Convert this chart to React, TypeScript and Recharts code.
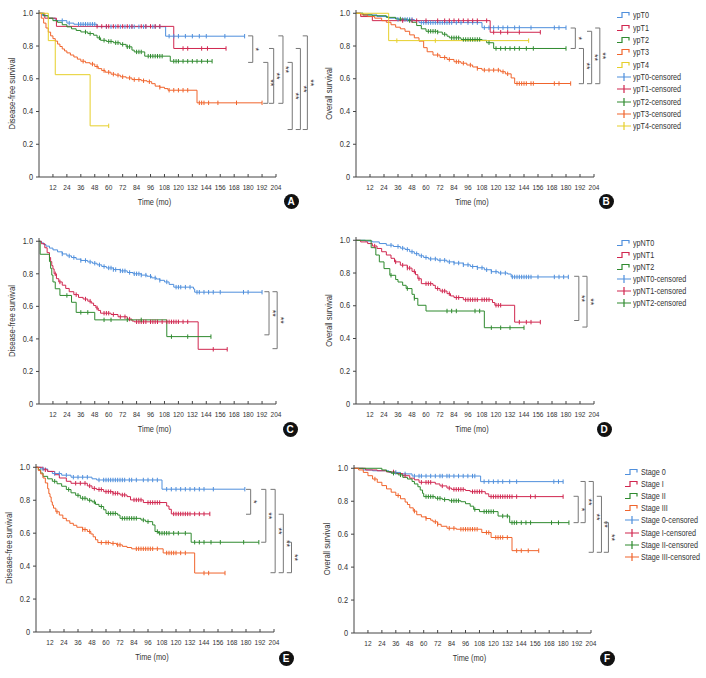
import { LineChart, Line, XAxis, YAxis, ReferenceLine } from "recharts";

// ---- axis ticks ----
const MONTH_TICKS = [12, 24, 36, 48, 60, 72, 84, 96, 108, 120, 132, 144, 156, 168, 180, 192, 204];
const SURV_TICKS = [0, 0.2, 0.4, 0.6, 0.8, 1.0];

// ---- colours ----
const BLUE = "#4f8fdc";
const RED = "#d0264f";
const GREEN = "#2f8a2f";
const ORANGE = "#f0642c";
const YELLOW = "#e6cf2a";

// ---- A: disease-free survival by ypT ----
const A_T0 = [[0, 1], [3, 0.985], [8, 0.97], [14, 0.955], [24, 0.94], [30, 0.933], [50, 0.918], [109, 0.86]];
const A_T0_CENS = [20, 26, 34, 36, 38, 40, 42, 44, 46, 48, 58, 62, 66, 70, 74, 78, 80, 82, 86, 90, 92, 98, 100, 104, 112, 116, 120, 126, 132, 138, 144, 160, 177];
const A_T1 = [[0, 1], [5, 0.97], [15, 0.92], [116, 0.785]];
const A_T1_CENS = [50, 54, 58, 60, 64, 68, 72, 76, 80, 88, 92, 96, 100, 104, 124, 128, 140, 145, 161];
const A_T2 = [[0, 1], [4, 0.985], [8, 0.97], [12, 0.955], [16, 0.945], [20, 0.93], [24, 0.917], [28, 0.905], [32, 0.895], [36, 0.886], [42, 0.876], [47, 0.866], [50, 0.85], [53, 0.835], [58, 0.828], [64, 0.82], [70, 0.81], [75, 0.795], [80, 0.775], [82, 0.764], [91, 0.738], [113, 0.707]];
const A_T2_CENS = [40, 44, 52, 56, 60, 62, 66, 68, 72, 76, 78, 84, 86, 88, 94, 96, 98, 100, 102, 104, 106, 116, 118, 120, 124, 128, 132, 136, 140, 145, 149];
const A_T3 = [[0, 1], [2, 0.97], [4, 0.94], [6, 0.91], [8, 0.885], [10, 0.862], [12, 0.845], [14, 0.83], [16, 0.812], [18, 0.797], [20, 0.782], [22, 0.77], [24, 0.758], [27, 0.745], [30, 0.733], [33, 0.72], [36, 0.707], [40, 0.698], [44, 0.69], [48, 0.675], [51, 0.662], [54, 0.65], [57, 0.64], [62, 0.628], [66, 0.622], [70, 0.612], [75, 0.605], [80, 0.595], [88, 0.588], [93, 0.582], [97, 0.57], [100, 0.555], [104, 0.548], [108, 0.54], [111, 0.53], [136, 0.453]];
const A_T3_CENS = [38, 46, 50, 56, 60, 64, 68, 72, 78, 82, 86, 90, 95, 104, 112, 116, 120, 124, 128, 138, 140, 142, 146, 154, 170, 192];
const A_T4 = [[0, 1], [8, 0.833], [14, 0.625], [44, 0.3125]];
const A_T4_CENS = [60];

// ---- B: overall survival by ypT ----
const B_T0 = [[0, 1], [6, 0.99], [18, 0.98], [28, 0.97], [36, 0.962], [50, 0.955], [54, 0.943], [108, 0.912]];
const B_T0_CENS = [36, 40, 42, 44, 46, 48, 56, 58, 60, 62, 64, 66, 68, 70, 72, 74, 76, 78, 80, 82, 86, 90, 96, 100, 104, 110, 114, 118, 122, 126, 130, 136, 140, 150, 170, 174, 180];
const B_T1 = [[0, 1], [4, 0.98], [14, 0.955], [115, 0.884]];
const B_T1_CENS = [40, 48, 52, 60, 70, 76, 80, 84, 88, 92, 96, 100, 104, 112, 118, 124, 130, 140, 158];
const B_T2 = [[0, 1], [6, 0.99], [14, 0.985], [26, 0.975], [34, 0.965], [44, 0.955], [48, 0.945], [52, 0.925], [56, 0.905], [60, 0.89], [70, 0.885], [74, 0.872], [78, 0.86], [80, 0.85], [90, 0.84], [108, 0.835], [112, 0.82], [118, 0.785]];
const B_T2_CENS = [38, 46, 62, 64, 66, 68, 70, 76, 82, 84, 86, 88, 92, 94, 96, 98, 100, 102, 104, 106, 114, 120, 124, 128, 132, 136, 140, 146, 152, 180];
const B_T3 = [[0, 1], [4, 0.99], [10, 0.98], [16, 0.97], [22, 0.955], [26, 0.945], [30, 0.93], [34, 0.915], [38, 0.905], [42, 0.89], [46, 0.868], [50, 0.85], [54, 0.83], [58, 0.79], [61, 0.765], [66, 0.745], [72, 0.73], [78, 0.718], [84, 0.704], [90, 0.695], [95, 0.684], [100, 0.672], [104, 0.663], [108, 0.653], [124, 0.643], [128, 0.63], [133, 0.605], [136, 0.571]];
const B_T3_CENS = [70, 76, 80, 86, 88, 92, 98, 104, 110, 114, 118, 122, 126, 130, 138, 140, 142, 144, 146, 150, 152, 170, 174, 184];
const B_T4 = [[0, 1], [28, 0.833]];
const B_T4_CENS = [35, 68, 148];

// ---- C: disease-free survival by ypN ----
const C_N0 = [[0, 1], [2, 0.99], [4, 0.98], [6, 0.97], [9, 0.958], [12, 0.947], [16, 0.935], [20, 0.922], [24, 0.91], [28, 0.9], [32, 0.89], [36, 0.882], [42, 0.873], [46, 0.865], [50, 0.855], [54, 0.845], [58, 0.836], [64, 0.826], [70, 0.818], [76, 0.808], [81, 0.8], [88, 0.792], [93, 0.785], [97, 0.775], [101, 0.768], [104, 0.76], [108, 0.75], [112, 0.735], [116, 0.718], [133, 0.707], [134, 0.687]];
const C_N0_CENS = [20, 26, 30, 36, 40, 44, 48, 52, 56, 60, 62, 64, 66, 70, 72, 74, 78, 82, 84, 86, 88, 92, 96, 100, 104, 110, 118, 120, 122, 126, 130, 136, 138, 142, 146, 150, 156, 176, 180, 192];
const C_N1 = [[0, 1], [2, 0.985], [5, 0.96], [7, 0.93], [9, 0.9], [10, 0.875], [11, 0.85], [12, 0.83], [13, 0.8], [15, 0.77], [17, 0.75], [20, 0.73], [23, 0.71], [26, 0.69], [30, 0.672], [34, 0.655], [38, 0.645], [42, 0.632], [45, 0.62], [47, 0.605], [49, 0.59], [51, 0.575], [53, 0.558], [62, 0.55], [68, 0.536], [76, 0.522], [80, 0.51], [82, 0.505], [137, 0.336]];
const C_N1_CENS = [14, 18, 32, 40, 44, 50, 56, 58, 60, 64, 70, 74, 78, 84, 86, 88, 90, 92, 96, 98, 100, 102, 106, 110, 112, 114, 116, 118, 120, 124, 128, 150, 162];
const C_N2 = [[0, 1], [1, 0.92], [9, 0.875], [10, 0.833], [11, 0.792], [12, 0.75], [14, 0.708], [18, 0.667], [28, 0.625], [32, 0.563], [48, 0.517], [110, 0.414]];
const C_N2_CENS = [24, 36, 42, 56, 62, 76, 88, 114, 128, 148];

// ---- D: overall survival by ypN ----
const D_N0 = [[0, 1], [8, 0.995], [14, 0.99], [20, 0.98], [26, 0.97], [32, 0.962], [38, 0.952], [42, 0.944], [46, 0.93], [50, 0.918], [54, 0.905], [58, 0.895], [62, 0.886], [70, 0.878], [78, 0.868], [84, 0.861], [92, 0.85], [98, 0.84], [104, 0.832], [110, 0.82], [116, 0.808], [122, 0.8], [130, 0.794], [133, 0.776]];
const D_N0_CENS = [30, 36, 40, 44, 48, 52, 56, 60, 64, 68, 72, 76, 80, 84, 88, 92, 96, 100, 104, 108, 112, 116, 120, 124, 128, 134, 136, 138, 140, 142, 144, 146, 148, 150, 156, 170, 174, 178, 182];
const D_N1 = [[0, 1], [4, 0.99], [10, 0.98], [14, 0.965], [18, 0.95], [22, 0.93], [26, 0.91], [30, 0.89], [33, 0.868], [38, 0.848], [44, 0.83], [48, 0.81], [51, 0.79], [53, 0.765], [56, 0.735], [66, 0.725], [68, 0.705], [72, 0.69], [78, 0.674], [81, 0.66], [84, 0.65], [92, 0.637], [117, 0.62], [119, 0.603], [136, 0.5]];
const D_N1_CENS = [16, 34, 40, 44, 46, 50, 54, 60, 62, 64, 70, 74, 76, 80, 86, 88, 94, 96, 98, 100, 102, 104, 108, 110, 112, 114, 120, 122, 124, 140, 146, 150, 158];
const D_N2 = [[0, 1], [13, 0.955], [17, 0.91], [20, 0.868], [24, 0.827], [29, 0.786], [34, 0.76], [36, 0.745], [40, 0.725], [43, 0.705], [48, 0.67], [50, 0.645], [53, 0.603], [60, 0.568], [110, 0.466]];
const D_N2_CENS = [30, 44, 50, 78, 82, 86, 102, 106, 116, 124, 132, 144];

// ---- E: disease-free survival by stage ----
const E_S0 = [[0, 1], [4, 0.99], [10, 0.975], [14, 0.962], [22, 0.952], [30, 0.94], [48, 0.93], [52, 0.923], [108, 0.867]];
const E_S0_CENS = [6, 16, 20, 26, 32, 36, 40, 44, 54, 58, 60, 62, 64, 66, 68, 70, 72, 74, 76, 80, 82, 86, 92, 96, 100, 104, 112, 116, 120, 124, 128, 132, 136, 140, 144, 152, 179];
const E_S1 = [[0, 1], [6, 0.985], [10, 0.975], [16, 0.955], [20, 0.935], [26, 0.915], [30, 0.903], [44, 0.887], [48, 0.872], [52, 0.865], [58, 0.852], [66, 0.842], [72, 0.832], [78, 0.822], [81, 0.802], [92, 0.786], [112, 0.765], [114, 0.745], [116, 0.717]];
const E_S1_CENS = [8, 34, 38, 42, 46, 50, 54, 56, 60, 62, 64, 66, 68, 70, 74, 76, 84, 86, 88, 90, 96, 98, 100, 102, 104, 106, 118, 120, 122, 124, 126, 128, 130, 132, 136, 140, 144, 149];
const E_S2 = [[0, 1], [2, 0.985], [4, 0.965], [6, 0.945], [10, 0.93], [14, 0.915], [18, 0.9], [22, 0.885], [26, 0.865], [30, 0.845], [34, 0.83], [38, 0.812], [44, 0.8], [48, 0.79], [51, 0.775], [54, 0.762], [58, 0.742], [60, 0.72], [70, 0.71], [72, 0.69], [90, 0.68], [94, 0.67], [100, 0.65], [102, 0.61], [105, 0.6], [133, 0.545]];
const E_S2_CENS = [16, 28, 36, 40, 42, 46, 50, 56, 62, 64, 66, 68, 74, 76, 78, 80, 82, 84, 86, 92, 96, 104, 106, 108, 110, 112, 114, 118, 122, 128, 136, 140, 144, 150, 158, 178, 191];
const E_S3 = [[0, 1], [2, 0.98], [4, 0.96], [6, 0.935], [8, 0.905], [10, 0.87], [11, 0.84], [12, 0.82], [13, 0.79], [14, 0.77], [15, 0.752], [17, 0.73], [20, 0.71], [23, 0.69], [26, 0.675], [29, 0.66], [32, 0.648], [35, 0.636], [40, 0.622], [44, 0.61], [47, 0.595], [49, 0.578], [51, 0.56], [53, 0.543], [64, 0.538], [69, 0.529], [74, 0.52], [78, 0.513], [82, 0.505], [109, 0.48], [136, 0.358]];
const E_S3_CENS = [18, 40, 42, 46, 56, 60, 62, 66, 70, 72, 86, 88, 90, 92, 94, 96, 98, 100, 104, 112, 114, 116, 118, 120, 124, 128, 144, 148, 162];

// ---- F: overall survival by stage ----
const F_S0 = [[0, 1], [8, 0.99], [16, 0.985], [30, 0.975], [40, 0.966], [50, 0.953], [109, 0.919]];
const F_S0_CENS = [36, 44, 52, 56, 58, 62, 66, 70, 74, 76, 80, 82, 86, 90, 94, 98, 102, 104, 112, 116, 120, 124, 128, 134, 140, 172, 176, 180];
const F_S1 = [[0, 1], [10, 0.99], [20, 0.985], [28, 0.978], [36, 0.968], [42, 0.955], [48, 0.94], [52, 0.93], [56, 0.915], [70, 0.905], [74, 0.893], [80, 0.88], [84, 0.872], [96, 0.865], [100, 0.858], [113, 0.845], [116, 0.828]];
const F_S1_CENS = [34, 44, 58, 62, 64, 66, 76, 82, 86, 88, 90, 92, 94, 102, 104, 106, 108, 110, 118, 120, 122, 124, 126, 128, 130, 132, 134, 136, 140, 152, 156, 180];
const F_S2 = [[0, 1], [24, 0.99], [28, 0.98], [32, 0.97], [38, 0.96], [42, 0.945], [46, 0.935], [50, 0.92], [52, 0.905], [55, 0.888], [57, 0.868], [59, 0.848], [60, 0.828], [70, 0.818], [76, 0.81], [82, 0.803], [92, 0.797], [96, 0.785], [100, 0.77], [103, 0.75], [108, 0.737], [124, 0.71], [134, 0.67]];
const F_S2_CENS = [34, 40, 62, 64, 66, 68, 72, 74, 78, 84, 86, 88, 90, 104, 112, 114, 116, 118, 120, 128, 132, 136, 138, 140, 144, 148, 152, 170, 176, 185];
const F_S3 = [[0, 1], [4, 0.99], [8, 0.975], [12, 0.955], [16, 0.935], [20, 0.915], [24, 0.895], [28, 0.875], [32, 0.855], [36, 0.835], [40, 0.815], [44, 0.795], [46, 0.78], [48, 0.76], [51, 0.74], [54, 0.718], [58, 0.705], [62, 0.695], [66, 0.685], [68, 0.675], [72, 0.66], [75, 0.648], [80, 0.636], [88, 0.63], [110, 0.61], [118, 0.58], [136, 0.5]];
const F_S3_CENS = [18, 38, 52, 62, 70, 72, 82, 86, 92, 94, 96, 98, 100, 102, 104, 106, 114, 116, 122, 124, 126, 128, 132, 140, 144, 150, 159];

// ---- pairwise comparison brackets (months, survival) ----
const A_BRACKETS = [
    { x: 184, top: 0.862, bottom: 0.7, mark: "*" },
    { x: 197, top: 0.7, bottom: 0.45, mark: "**" },
    { x: 202, top: 0.785, bottom: 0.45, mark: "**" },
    { x: 210, top: 0.862, bottom: 0.45, mark: "**" },
    { x: 218, top: 0.7, bottom: 0.29, mark: "**" },
    { x: 225, top: 0.785, bottom: 0.29, mark: "**" },
    { x: 231, top: 0.862, bottom: 0.29, mark: "**" },
];
const B_BRACKETS = [
    { x: 188, top: 0.91, bottom: 0.785, mark: "*" },
    { x: 195, top: 0.785, bottom: 0.57, mark: "**" },
    { x: 202, top: 0.89, bottom: 0.57, mark: "**" },
    { x: 209, top: 0.91, bottom: 0.57, mark: "**" },
];
const C_BRACKETS = [
    { x: 198, top: 0.69, bottom: 0.425, mark: "**" },
    { x: 205, top: 0.69, bottom: 0.34, mark: "**" },
];
const D_BRACKETS = [
    { x: 191, top: 0.78, bottom: 0.51, mark: "**" },
    { x: 198, top: 0.78, bottom: 0.47, mark: "**" },
];
const E_BRACKETS = [
    { x: 184, top: 0.866, bottom: 0.715, mark: "*" },
    { x: 197, top: 0.866, bottom: 0.545, mark: "**" },
    { x: 205, top: 0.866, bottom: 0.36, mark: "**" },
    { x: 212, top: 0.715, bottom: 0.36, mark: "**" },
    { x: 219, top: 0.545, bottom: 0.36, mark: "**" },
];
const F_BRACKETS = [
    { x: 193, top: 0.83, bottom: 0.67, mark: "*" },
    { x: 199, top: 0.92, bottom: 0.67, mark: "**" },
    { x: 206, top: 0.92, bottom: 0.49, mark: "**" },
    { x: 213, top: 0.83, bottom: 0.49, mark: "**" },
    { x: 219, top: 0.67, bottom: 0.49, mark: "**" },
];

const YPT_NAMES = ["ypT0", "ypT1", "ypT2", "ypT3", "ypT4"];
const YPN_NAMES = ["ypNT0", "ypNT1", "ypNT2"];
const STAGE_NAMES = ["Stage 0", "Stage I", "Stage II", "Stage III"];

const FONT = "'Liberation Sans', Arial, sans-serif";
const NARROW = 0.82; // squeeze to look like the condensed face of the original
const ARM = 4;
const TXT = "#333";

// step curve + censor marks -> points for a stepAfter line
function buildCurve(steps, cens) {
    const pts = steps.map(([t, s]) => ({ t, s, c: false }));
    cens.forEach((t) => {
        let s = steps[0][1];
        steps.forEach(([st, sv]) => {
            if (st <= t) s = sv;
        });
        pts.push({ t, s, c: true });
    });
    pts.sort((a, b) => a.t - b.t || (a.c ? 1 : 0) - (b.c ? 1 : 0));
    return pts;
}

const fmtSurv = (v) => (v === 0 ? "0" : v.toFixed(1));

function XTick({ x, y, payload }) {
    return (
        <g>
            <line x1={x} x2={x} y1={y} y2={y - 3} stroke="#444" />
            <text transform={`translate(${x},${y + 13}) scale(${NARROW},1)`} textAnchor="middle" fontSize={8} fill={TXT}>
                {payload.value}
            </text>
        </g>
    );
}

function YTick({ x, y, payload }) {
    return (
        <text transform={`translate(${x},${y}) scale(${NARROW},1)`} textAnchor="end" dominantBaseline="central" fontSize={9} fill={TXT}>
            {fmtSurv(payload.value)}
        </text>
    );
}

function XLabel({ viewBox }) {
    const cx = viewBox.x + viewBox.width / 2 - 3;
    return (
        <text transform={`translate(${cx},${viewBox.y + 28}) scale(${NARROW},1)`} textAnchor="middle" fontSize={9} fill={TXT}>
            Time (mo)
        </text>
    );
}

function YLabel({ viewBox, text }) {
    const cx = viewBox.x + 3;
    const cy = viewBox.y + viewBox.height / 2;
    return (
        <text
            transform={`translate(${cx},${cy}) rotate(-90) scale(${NARROW},1)`}
            textAnchor="middle"
            dominantBaseline="central"
            fontSize={9.4}
            fill={TXT}
        >
            {text}
        </text>
    );
}

function Stars({ viewBox, text }) {
    const cx = viewBox.x + 0.5;
    const cy = viewBox.y + viewBox.height / 2;
    return (
        <text transform={`translate(${cx},${cy}) rotate(90)`} textAnchor="middle" fontSize={9} fill={TXT}>
            {text}
        </text>
    );
}

const censorDot = (color) => (p) =>
    p.payload && p.payload.c ? (
        <path key={`c${p.index}`} d={`M${p.cx},${p.cy - 2.2}V${p.cy + 2.2}`} stroke={color} strokeWidth={1} fill="none" />
    ) : (
        <g key={`n${p.index}`} />
    );

function Badge({ x, y, letter }) {
    return (
        <div
            style={{
                position: "absolute",
                left: x - 7.5,
                top: y - 7.5,
                width: 15,
                height: 15,
                borderRadius: "50%",
                background: "#111",
                color: "#fff",
                fontWeight: "bold",
                fontSize: 10,
                lineHeight: "15px",
                textAlign: "center",
            }}
        >
            {letter}
        </div>
    );
}

function StepIcon({ color }) {
    return (
        <svg width={14} height={8} style={{ display: "block", flex: "none" }}>
            <path d="M0,6.5H5V1.5H12V4.5" stroke={color} strokeWidth={1.2} fill="none" />
        </svg>
    );
}

function CensIcon({ color }) {
    return (
        <svg width={14} height={8} style={{ display: "block", flex: "none" }}>
            <path d="M0,4H14M7,0V8" stroke={color} strokeWidth={1.2} fill="none" />
        </svg>
    );
}

function KMLegend({ left, top, gap, names, colors }) {
    const rows = [
        ...names.map((n, i) => ({ label: n, color: colors[i], cens: false })),
        ...names.map((n, i) => ({ label: `${n}-censored`, color: colors[i], cens: true })),
    ];
    return (
        <div style={{ position: "absolute", left, top: top - gap / 2 }}>
            {rows.map((r) => (
                <div key={r.label} style={{ display: "flex", alignItems: "center", height: gap }}>
                    {r.cens ? <CensIcon color={r.color} /> : <StepIcon color={r.color} />}
                    <span
                        style={{
                            marginLeft: 2,
                            fontSize: 8.8,
                            color: TXT,
                            whiteSpace: "nowrap",
                            display: "inline-block",
                            transform: `scaleX(${NARROW})`,
                            transformOrigin: "left center",
                        }}
                    >
                        {r.label}
                    </span>
                </div>
            ))}
        </div>
    );
}

function KMPanel({ p }) {
    return (
        <div style={{ position: "absolute", left: p.left, top: p.top }}>
            <LineChart width={p.width} height={215} margin={p.margin}>
                <XAxis
                    type="number"
                    dataKey="t"
                    domain={[0, 204]}
                    ticks={MONTH_TICKS}
                    interval={0}
                    allowDataOverflow
                    tickSize={0}
                    tickMargin={0}
                    tickLine={false}
                    tick={<XTick />}
                    height={20}
                    stroke="#444"
                    label={<XLabel />}
                />
                <YAxis
                    type="number"
                    domain={[0, 1.02]}
                    ticks={SURV_TICKS}
                    allowDataOverflow
                    width={30}
                    tickSize={3}
                    tickMargin={3}
                    tick={<YTick />}
                    stroke="#444"
                    label={<YLabel text={p.yLabel} />}
                />
                {p.series.map((s) => (
                    <Line
                        key={s.name}
                        data={s.points}
                        dataKey="s"
                        type="stepAfter"
                        stroke={s.color}
                        strokeWidth={1}
                        dot={censorDot(s.color)}
                        activeDot={false}
                        isAnimationActive={false}
                    />
                ))}
                {p.brackets.map((b, i) => [
                    <ReferenceLine
                        key={`v${i}`}
                        segment={[{ x: b.x, y: b.top }, { x: b.x, y: b.bottom }]}
                        stroke="#777"
                        ifOverflow="visible"
                        label={<Stars text={b.mark} />}
                    />,
                    <ReferenceLine
                        key={`t${i}`}
                        segment={[{ x: b.x - ARM, y: b.top }, { x: b.x, y: b.top }]}
                        stroke="#777"
                        ifOverflow="visible"
                    />,
                    <ReferenceLine
                        key={`b${i}`}
                        segment={[{ x: b.x - ARM, y: b.bottom }, { x: b.x, y: b.bottom }]}
                        stroke="#777"
                        ifOverflow="visible"
                    />,
                ])}
            </LineChart>
            <Badge x={p.badge[0]} y={p.badge[1]} letter={p.letter} />
        </div>
    );
}

const ser = (name, color, steps, cens) => ({ name, color, points: buildCurve(steps, cens) });

const TCOL = [BLUE, RED, GREEN, ORANGE, YELLOW];

const PANELS = [
    {
        letter: "A", left: 0, top: 0, width: 320, margin: { top: 10, right: 44, bottom: 18, left: 9 },
        badge: [291, 201], yLabel: "Disease-free survival", brackets: A_BRACKETS,
        series: [
            ser("ypT0", BLUE, A_T0, A_T0_CENS), ser("ypT1", RED, A_T1, A_T1_CENS), ser("ypT2", GREEN, A_T2, A_T2_CENS),
            ser("ypT3", ORANGE, A_T3, A_T3_CENS), ser("ypT4", YELLOW, A_T4, A_T4_CENS),
        ],
    },
    {
        letter: "B", left: 320, top: 0, width: 300, margin: { top: 10, right: 26, bottom: 18, left: 6 },
        badge: [286, 201], yLabel: "Overall survival", brackets: B_BRACKETS,
        series: [
            ser("ypT0", BLUE, B_T0, B_T0_CENS), ser("ypT1", RED, B_T1, B_T1_CENS), ser("ypT2", GREEN, B_T2, B_T2_CENS),
            ser("ypT3", ORANGE, B_T3, B_T3_CENS), ser("ypT4", YELLOW, B_T4, B_T4_CENS),
        ],
    },
    {
        letter: "C", left: 0, top: 220, width: 320, margin: { top: 18, right: 44, bottom: 11, left: 9 },
        badge: [290, 209], yLabel: "Disease-free survival", brackets: C_BRACKETS,
        series: [ser("ypNT0", BLUE, C_N0, C_N0_CENS), ser("ypNT1", RED, C_N1, C_N1_CENS), ser("ypNT2", GREEN, C_N2, C_N2_CENS)],
    },
    {
        letter: "D", left: 320, top: 220, width: 300, margin: { top: 17, right: 26, bottom: 11, left: 6 },
        badge: [284, 209], yLabel: "Overall survival", brackets: D_BRACKETS,
        series: [ser("ypNT0", BLUE, D_N0, D_N0_CENS), ser("ypNT1", RED, D_N1, D_N1_CENS), ser("ypNT2", GREEN, D_N2, D_N2_CENS)],
    },
    {
        letter: "E", left: 0, top: 450, width: 320, margin: { top: 14, right: 46, bottom: 13, left: 6 },
        badge: [286, 208], yLabel: "Disease-free survival", brackets: E_BRACKETS,
        series: [
            ser("Stage 0", BLUE, E_S0, E_S0_CENS), ser("Stage I", RED, E_S1, E_S1_CENS),
            ser("Stage II", GREEN, E_S2, E_S2_CENS), ser("Stage III", ORANGE, E_S3, E_S3_CENS),
        ],
    },
    {
        letter: "F", left: 320, top: 450, width: 300, margin: { top: 15, right: 29, bottom: 12, left: 4 },
        badge: [287, 208], yLabel: "Overall survival", brackets: F_BRACKETS,
        series: [
            ser("Stage 0", BLUE, F_S0, F_S0_CENS), ser("Stage I", RED, F_S1, F_S1_CENS),
            ser("Stage II", GREEN, F_S2, F_S2_CENS), ser("Stage III", ORANGE, F_S3, F_S3_CENS),
        ],
    },
];

export default function App() {
    return (
        <div
            style={{
                position: "absolute",
                left: 0,
                top: 0,
                width: 706,
                height: 678,
                background: "#fff",
                fontFamily: FONT,
                overflow: "hidden",
            }}
        >
            {PANELS.map((p) => (
                <KMPanel key={p.letter} p={p} />
            ))}
            <KMLegend left={617} top={15.5} gap={12.33} names={YPT_NAMES} colors={TCOL} />
            <KMLegend left={617} top={243.3} gap={12} names={YPN_NAMES} colors={TCOL} />
            <KMLegend left={625} top={471.7} gap={12.2} names={STAGE_NAMES} colors={TCOL} />
        </div>
    );
}
